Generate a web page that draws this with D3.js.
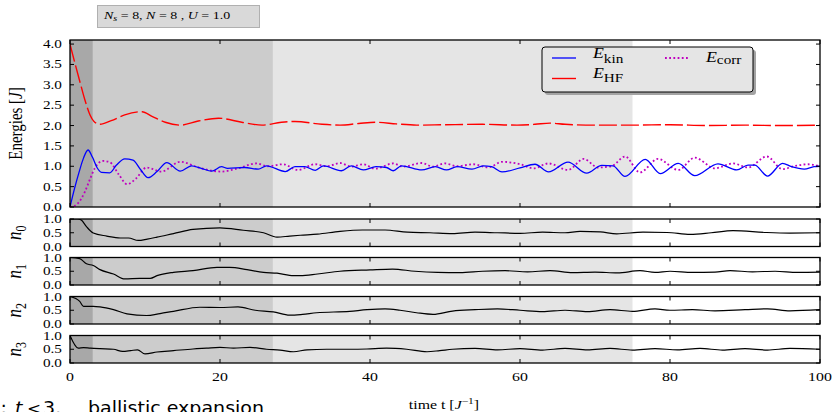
<!DOCTYPE html>
<html>
<head>
<meta charset="utf-8">
<script src="https://cdn.jsdelivr.net/npm/d3@7"></script>
<style>
  html, body { margin: 0; padding: 0; background: #ffffff; }
  svg { display: block; }
</style>
</head>
<body>
<svg id="chart" width="832" height="412"></svg>
<script>
// ---- data: time [1/J] and value pairs ----
const eKin = [[0,0],[0.6,0.45],[1.2,0.85],[1.8,1.2],[2.4,1.40],[3.0,1.22],[3.6,0.97],[4.2,0.85],[5.3,0.84],[6.2,1.03],[7.3,1.18],[8.4,1.15],[9.4,0.92],[10.4,0.72],[11.6,0.87],[12.9,1.09],[14.7,0.88],[16.2,1.01],[17.5,0.95],[18.9,0.88],[20.2,0.99],[21,0.95],[23.3,0.97],[25.1,0.93],[26.2,1.01],[28.7,0.87],[30,0.99],[31.3,0.99],[32.7,0.90],[33.8,1.01],[36.2,0.89],[37.5,1.01],[39.1,0.91],[40.8,0.99],[42.2,0.97],[43.1,0.89],[44.2,1.01],[46.9,0.91],[48.7,0.99],[50.2,0.91],[51.6,0.99],[53.6,0.93],[55.1,1.01],[56.2,0.99],[57.6,0.86],[60,0.96],[62,1.05],[63.8,0.86],[66.4,1.10],[68.9,0.83],[70.9,1.02],[72.4,1.01],[74,0.75],[76.7,1.17],[78.7,0.82],[81.1,1.07],[83.3,0.77],[86.4,1.06],[88.9,0.91],[90.4,1.03],[91.3,1.03],[93,0.76],[95,1.07],[96.2,0.99],[97.9,0.93],[99.2,0.99],[100,1.0]];
const eHF = [[0,4.0],[0.7,3.5],[1.4,3.02],[2.0,2.62],[2.67,2.26],[3.2,2.1],[4,2.03],[5.5,2.12],[7.3,2.26],[9.6,2.34],[11,2.22],[12.7,2.08],[14.7,2.01],[17.1,2.11],[19.8,2.18],[22.9,2.08],[25.6,2.01],[28.2,2.08],[30,2.10],[33.6,2.03],[36,2.01],[38.5,2.05],[40.9,2.08],[43.5,2.04],[46.2,2.01],[50,2.02],[55,2.03],[59.6,2.01],[62,2.03],[64,2.06],[66,2.03],[70,2.01],[75,2.01],[80,2.02],[85,2.0],[90,2.01],[95,2.0],[100,2.01]];
const eCorr = [[0,0],[0.8,0.05],[1.5,0.2],[2,0.38],[2.7,0.7],[3.3,0.95],[4.4,1.13],[5.3,1.10],[6.5,0.8],[7.6,0.56],[8.8,0.7],[10.2,0.97],[12.2,0.87],[14.7,1.11],[17.1,0.97],[20.2,0.87],[22.4,0.95],[24.9,1.07],[26.3,1.0],[28.4,1.05],[30.4,0.91],[32.7,1.05],[34.3,1.0],[36,1.08],[37.5,0.99],[39.1,1.05],[40.7,0.94],[43.1,1.07],[44.4,0.99],[46.9,1.08],[48.4,0.99],[50,1.07],[51.6,1.0],[53.8,1.05],[55.8,0.97],[57.6,1.11],[60,1.05],[61.8,0.95],[63.8,1.07],[66.4,0.91],[68.5,1.18],[70.4,0.97],[72.2,1.0],[74,1.24],[76,0.85],[78.4,1.18],[81.1,0.91],[83.3,1.21],[86,0.95],[88.4,1.07],[90.4,0.97],[92.9,1.24],[95,0.93],[96.7,1.01],[98.4,1.05],[100,1.0]];

const n0 = [[0,1.0],[1.0,1.0],[1.5,0.96],[2.2,0.72],[3.1,0.49],[4.9,0.38],[6.7,0.31],[7.8,0.31],[9.1,0.22],[10.3,0.27],[11.6,0.34],[13.8,0.47],[16.4,0.62],[20,0.68],[23.1,0.59],[25.8,0.50],[27.6,0.34],[29.3,0.38],[30.7,0.41],[33,0.45],[36,0.55],[39,0.6],[42,0.6],[45,0.52],[48,0.5],[51,0.47],[54,0.52],[57,0.5],[60,0.48],[63,0.52],[66,0.5],[68,0.55],[70.7,0.53],[72.9,0.46],[76.4,0.52],[79.6,0.51],[82.7,0.44],[85.5,0.5],[88.4,0.58],[92.9,0.51],[96,0.49],[100,0.5]];
const n1 = [[0,1.0],[1.3,0.96],[2.2,0.77],[3.1,0.71],[4,0.56],[5.8,0.40],[7.3,0.22],[9.3,0.24],[10.7,0.24],[11.6,0.34],[13.8,0.46],[16.4,0.52],[19.6,0.64],[21.3,0.64],[23.6,0.56],[25.8,0.46],[27.6,0.43],[29.8,0.34],[30.7,0.34],[33,0.4],[36,0.5],[40,0.55],[43,0.58],[46,0.5],[49,0.46],[52,0.45],[55,0.5],[58,0.52],[61,0.48],[64,0.52],[67,0.45],[70,0.47],[73,0.44],[76,0.52],[78,0.46],[80,0.5],[83,0.46],[86,0.47],[88,0.52],[91,0.48],[94,0.5],[97,0.46],[100,0.47]];
const n2 = [[0,1.0],[1.3,0.82],[1.8,0.64],[3.1,0.64],[4,0.62],[5.8,0.52],[7.6,0.37],[10.2,0.31],[12,0.38],[13.8,0.46],[17.3,0.61],[20,0.6],[22.4,0.62],[24.7,0.5],[27.1,0.44],[29.3,0.32],[31,0.35],[32.9,0.41],[37.3,0.46],[39.6,0.52],[42,0.55],[44,0.5],[46.2,0.41],[48.4,0.35],[51,0.47],[54,0.52],[57,0.55],[60,0.5],[63,0.45],[66,0.5],[69,0.45],[72,0.52],[75,0.46],[78,0.55],[80,0.5],[83,0.52],[86,0.48],[90,0.52],[93,0.55],[96,0.48],[100,0.52]];
const n3 = [[0,1.0],[1.1,0.54],[1.8,0.56],[2.7,0.54],[4,0.52],[5.8,0.5],[7,0.42],[8.1,0.45],[9,0.48],[10,0.33],[11.6,0.4],[13.8,0.45],[16.4,0.51],[18.2,0.54],[20,0.57],[21.8,0.54],[24,0.57],[26.2,0.5],[28,0.47],[29.8,0.41],[31.6,0.48],[34.2,0.5],[37.3,0.5],[39.6,0.51],[42.2,0.54],[44.9,0.5],[47.6,0.41],[49.3,0.45],[51,0.5],[54,0.53],[57,0.48],[60,0.52],[63,0.47],[66,0.53],[69,0.48],[72,0.53],[75,0.47],[78,0.52],[81,0.48],[84,0.53],[87,0.47],[90,0.52],[93,0.47],[96,0.53],[100,0.5]];

// time regions: ballistic expansion, then two later regimes
const regionBounds = [0, 3, 27, 75];
const xTicks = [0, 20, 40, 60, 80, 100];
const energyTicks = [0, 0.5, 1.0, 1.5, 2.0, 2.5, 3.0, 3.5, 4.0];
const occTicks = [0, 0.5, 1.0];
const occSeries = [n0, n1, n2, n3];
const occNames = ["0", "1", "2", "3"];

// ---- layout ----
const svg = d3.select("#chart");
const S = 1.27;               // horizontal glyph stretch
const serif = "'Liberation Serif', 'DejaVu Serif', serif";
const sans = "'DejaVu Sans', sans-serif";

const x = d3.scaleLinear().domain([0, 100]).range([70, 820]);
const mainY = d3.scaleLinear().domain([0, 4.1]).range([207, 40]);
const occTops = [219, 257.5, 296.5, 335.5];
const occH = 27.5;

const regionFills = ["#a8a8a8", "#cccccc", "#e5e5e5"];
const regionEdges = ["#9a9a9a", "#bcbcbc", "#e5e5e5"];

// stretched text helper
function stext(g, px, py, opts = {}) {
  const sx = opts.sx || S;
  const t = g.append("text")
    .attr("transform", `translate(${px},${py})` + (opts.rotate ? ` rotate(${opts.rotate}) scale(1,${sx})` : ` scale(${sx},1)`))
    .attr("text-anchor", opts.anchor || "start")
    .attr("font-family", opts.family || serif)
    .attr("font-size", opts.size || 12)
    .attr("fill", "#000");
  if (opts.italic) t.attr("font-style", "italic");
  if (opts.text !== undefined) t.text(opts.text);
  return t;
}

function panel(top, bottom, yScale, yTickVals, id) {
  const g = svg.append("g");
  const x0 = x.range()[0], x1 = x.range()[1];
  svg.append("clipPath").attr("id", id).append("rect")
    .attr("x", x0).attr("y", top).attr("width", x1 - x0).attr("height", bottom - top);
  const inner = g.append("g").attr("clip-path", `url(#${id})`);
  // shaded regimes
  for (let i = 0; i < regionBounds.length - 1; i++) {
    inner.append("rect")
      .attr("x", x(regionBounds[i])).attr("y", top)
      .attr("width", x(regionBounds[i + 1]) - x(regionBounds[i]))
      .attr("height", bottom - top)
      .attr("fill", regionFills[i]);
    if (i < 2) {
      inner.append("line")
        .attr("x1", x(regionBounds[i + 1])).attr("x2", x(regionBounds[i + 1]))
        .attr("y1", top).attr("y2", bottom)
        .attr("stroke", regionEdges[i]).attr("stroke-width", 1);
    }
  }
  return { g, inner, top, bottom, yScale, yTickVals };
}

function frame(p) {
  const { g, top, bottom, yScale, yTickVals } = p;
  const x0 = x.range()[0], x1 = x.range()[1];
  const tl = 4;
  // x ticks (inward, top and bottom)
  xTicks.forEach(v => {
    g.append("line").attr("x1", x(v)).attr("x2", x(v)).attr("y1", bottom).attr("y2", bottom - tl)
      .attr("stroke", "#000").attr("stroke-width", 1);
    g.append("line").attr("x1", x(v)).attr("x2", x(v)).attr("y1", top).attr("y2", top + tl)
      .attr("stroke", "#000").attr("stroke-width", 1);
  });
  // y ticks (inward, left and right)
  yTickVals.forEach(v => {
    g.append("line").attr("x1", x0).attr("x2", x0 + tl).attr("y1", yScale(v)).attr("y2", yScale(v))
      .attr("stroke", "#000").attr("stroke-width", 1);
    g.append("line").attr("x1", x1).attr("x2", x1 - tl).attr("y1", yScale(v)).attr("y2", yScale(v))
      .attr("stroke", "#000").attr("stroke-width", 1);
    stext(g, 62, yScale(v) + 4, { anchor: "end", size: 12, text: d3.format(".1f")(v) });
  });
  g.append("rect").attr("x", x0).attr("y", top).attr("width", x1 - x0).attr("height", bottom - top)
    .attr("fill", "none").attr("stroke", "#000").attr("stroke-width", 1.3);
}

// ---- energies panel ----
const mp = panel(40, 207, mainY, energyTicks, "clipMain");
const eLine = d3.line().x(d => x(d[0])).y(d => mainY(d[1])).curve(d3.curveMonotoneX);
mp.inner.append("path").datum(eHF).attr("d", eLine)
  .attr("fill", "none").attr("stroke", "#ff0000").attr("stroke-width", 1.4).attr("stroke-dasharray", "18,4");
mp.inner.append("path").datum(eCorr).attr("d", eLine)
  .attr("fill", "none").attr("stroke", "#bf00bf").attr("stroke-width", 1.8).attr("stroke-dasharray", "1.8,2.4");
mp.inner.append("path").datum(eKin).attr("d", eLine)
  .attr("fill", "none").attr("stroke", "#0000ff").attr("stroke-width", 1.3);
frame(mp);

// ---- occupation panels ----
occSeries.forEach((series, i) => {
  const top = occTops[i], bottom = occTops[i] + occH;
  const yS = d3.scaleLinear().domain([0, 1]).range([bottom, top]);
  const p = panel(top, bottom, yS, occTicks, "clipN" + i);
  const ln = d3.line().x(d => x(d[0])).y(d => yS(d[1])).curve(d3.curveMonotoneX);
  p.inner.append("path").datum(series).attr("d", ln)
    .attr("fill", "none").attr("stroke", "#000").attr("stroke-width", 1.2);
  frame(p);
  const lab = stext(svg, 21, (top + bottom) / 2, { rotate: -90, anchor: "middle", size: 17 });
  lab.append("tspan").attr("font-style", "italic").text("n");
  lab.append("tspan").attr("font-size", 12).attr("dy", 4).text(occNames[i]);
});

// x tick labels
xTicks.forEach(v => stext(svg, x(v), 381, { anchor: "middle", size: 12.5, text: String(v) }));

// axis titles
const yl = stext(svg, 22, 123.5, { rotate: -90, anchor: "middle", size: 15 });
yl.append("tspan").text("Energies [");
yl.append("tspan").attr("font-style", "italic").text("J");
yl.append("tspan").text("]");

const xl = stext(svg, 444, 409, { anchor: "middle", size: 12.5 });
xl.append("tspan").text("time t [");
xl.append("tspan").attr("font-style", "italic").text("J");
xl.append("tspan").attr("font-size", 9).attr("dy", -5).text("\u22121");
xl.append("tspan").attr("dy", 5).text("]");

// parameter box
svg.append("rect").attr("x", 97.5).attr("y", 5.5).attr("width", 162).attr("height", 22)
  .attr("fill", "#d9d9d9").attr("stroke", "#b0b0b0").attr("stroke-width", 1);
const tt = stext(svg, 104, 18.5, { size: 11 });
[["N", 1, 0], ["s", 1, 1], [" = 8, ", 0, 0], ["N", 1, 0], [" = 8 , ", 0, 0], ["U", 1, 0], [" = 1.0", 0, 0]]
  .forEach(([s, it, sub], k, arr) => {
    const sp = tt.append("tspan").text(s);
    if (it) sp.attr("font-style", "italic");
    if (sub) sp.attr("font-size", 8).attr("dy", 2.5);
    else if (k > 0 && arr[k - 1][2]) sp.attr("dy", -2.5);
  });

// legend
const lg = svg.append("g");
lg.append("rect").attr("x", 545).attr("y", 50).attr("width", 211).attr("height", 45).attr("rx", 3)
  .attr("fill", "#a3a3a3");
lg.append("rect").attr("x", 542).attr("y", 47).attr("width", 211).attr("height", 45).attr("rx", 3)
  .attr("fill", "#e5e5e5").attr("stroke", "#000").attr("stroke-width", 1);
const legendItems = [
  { sub: "kin", color: "#0000ff", dash: null, lx: 552, ly: 58, tx: 593, ty: 57.7, sy: 62.5, w: 1.3 },
  { sub: "HF", color: "#ff0000", dash: null, lx: 552, ly: 78.5, tx: 593, ty: 77.7, sy: 82, w: 1.4 },
  { sub: "corr", color: "#bf00bf", dash: "1.8,2.4", lx: 665, ly: 58, tx: 706, ty: 62, sy: 63.5, w: 1.8 }
];
legendItems.forEach(it => {
  const l = lg.append("line").attr("x1", it.lx).attr("x2", it.lx + 24).attr("y1", it.ly).attr("y2", it.ly)
    .attr("stroke", it.color).attr("stroke-width", it.w);
  if (it.dash) l.attr("stroke-dasharray", it.dash);
  const t = stext(lg, it.tx, it.ty, { size: 14 });
  t.append("tspan").attr("font-style", "italic").text("E");
  t.append("tspan").attr("font-size", 12).attr("dy", it.sy - it.ty).text(it.sub);
});

// regime caption
const cap = svg.append("g");
const capOpt = { family: sans, size: 17, sx: 1.12 };
stext(cap, -5, 414, { ...capOpt, text: "I:" });
stext(cap, 15, 414, { ...capOpt, italic: true, text: "t" });
stext(cap, 27, 414, { ...capOpt, size: 15, text: "<" });
stext(cap, 43, 414, { ...capOpt, text: "3," });
stext(cap, 88, 414, { ...capOpt, text: "ballistic expansion" });
</script>
</body>
</html>
